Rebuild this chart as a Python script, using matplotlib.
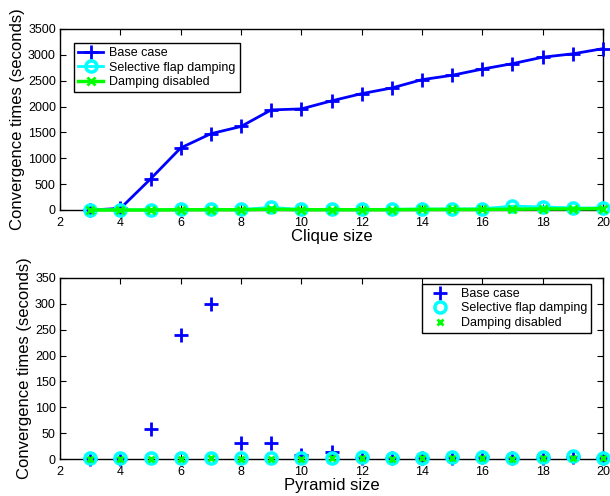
import numpy as np
import matplotlib.pyplot as plt

plt.rcParams['font.family'] = ['Liberation Sans', 'DejaVu Sans']

sizes = np.arange(3, 21)

# clique topology
clique_base = [0, 30, 600, 1200, 1475, 1615, 1935, 1955, 2110, 2250, 2360, 2520,
               2605, 2725, 2830, 2955, 3020, 3120]
clique_selective = [5, 5, 5, 10, 10, 10, 50, 10, 10, 10, 15, 20, 20, 25, 75, 60, 40, 40]
clique_disabled = [0, 0, 0, 5, 5, 5, 15, 5, 5, 5, 5, 10, 10, 10, 15, 20, 20, 25]

# pyramid topology
pyramid_base = [0, 0, 58, 240, 300, 31, 30, 8, 14, 2, 1, 1, 2, 3, 1, 2, 4, 1]
pyramid_selective = [1, 1, 1, 1, 2, 1, 1, 1, 2, 3, 1, 2, 3, 4, 1, 3, 6, 2]
pyramid_disabled = [0, 0, 0, 0, 1, 0, 0, 0, 1, 1, 0, 1, 1, 1, 0, 1, 2, 1]

labels = ['Base case', 'Selective flap damping', 'Damping disabled']

fig = plt.figure(figsize=(6.1, 4.96), dpi=100)
ax1 = fig.add_axes([60/610, 1 - 210/496, 543/610, 181/496])
ax2 = fig.add_axes([60/610, 1 - 459/496, 543/610, 181/496])

# top: lines with markers
ax1.plot(sizes, clique_base, color='#0000ff', marker='+', ms=10, mew=2, lw=2,
         clip_on=False, zorder=3, label=labels[0])
ax1.plot(sizes, clique_selective, color='#00ffff', marker='o', ms=8, mew=2.5, mfc='none', lw=2,
         clip_on=False, zorder=3, label=labels[1])
ax1.plot(sizes, clique_disabled, color='#00ff00', marker='x', ms=6, mew=2, lw=2.5,
         clip_on=False, zorder=3, label=labels[2])
ax1.set_ylim(0, 3500)
ax1.set_yticks(np.arange(0, 3501, 500))
ax1.set_xlabel('Clique size', fontsize=12, labelpad=0)

# bottom: markers only
ax2.plot(sizes, pyramid_base, ls='none', color='#0000ff', marker='+', ms=10, mew=2,
         clip_on=False, zorder=3, label=labels[0])
ax2.plot(sizes, pyramid_selective, ls='none', color='#00ffff', marker='o', ms=8, mew=2.5,
         mfc='none', clip_on=False, zorder=3, label=labels[1])
ax2.plot(sizes, pyramid_disabled, ls='none', color='#00ff00', marker='x', ms=5, mew=2,
         clip_on=False, zorder=3, label=labels[2])
ax2.set_ylim(0, 350)
ax2.set_yticks(np.arange(0, 351, 50))
ax2.set_xlabel('Pyramid size', fontsize=12, labelpad=0)

for ax in (ax1, ax2):
    ax.set_xlim(2, 20)
    ax.set_xticks(np.arange(2, 21, 2))
    ax.set_ylabel('Convergence times (seconds)', fontsize=12, labelpad=2)
    ax.tick_params(direction='in', top=True, right=True, labelsize=9, length=4)
    ax.tick_params(axis='x', pad=5)
    ax.tick_params(axis='y', pad=3)
    for s in ax.spines.values():
        s.set_linewidth(1)

leg1 = ax1.legend(loc='upper left', bbox_to_anchor=(0.015, 0.955), fontsize=9, fancybox=False,
                  edgecolor='black', framealpha=1, handlelength=2.0, borderpad=0.3,
                  labelspacing=0.2, handletextpad=0.5)
leg1.get_frame().set_linewidth(1)
leg2 = ax2.legend(loc='upper right', bbox_to_anchor=(0.99, 1.0), fontsize=9, fancybox=False,
                  edgecolor='black', framealpha=1, handlelength=2.2, borderpad=0.3,
                  labelspacing=0.2, handletextpad=0.6)
leg2.get_frame().set_linewidth(1)

fig.savefig('out.png', dpi=100)
